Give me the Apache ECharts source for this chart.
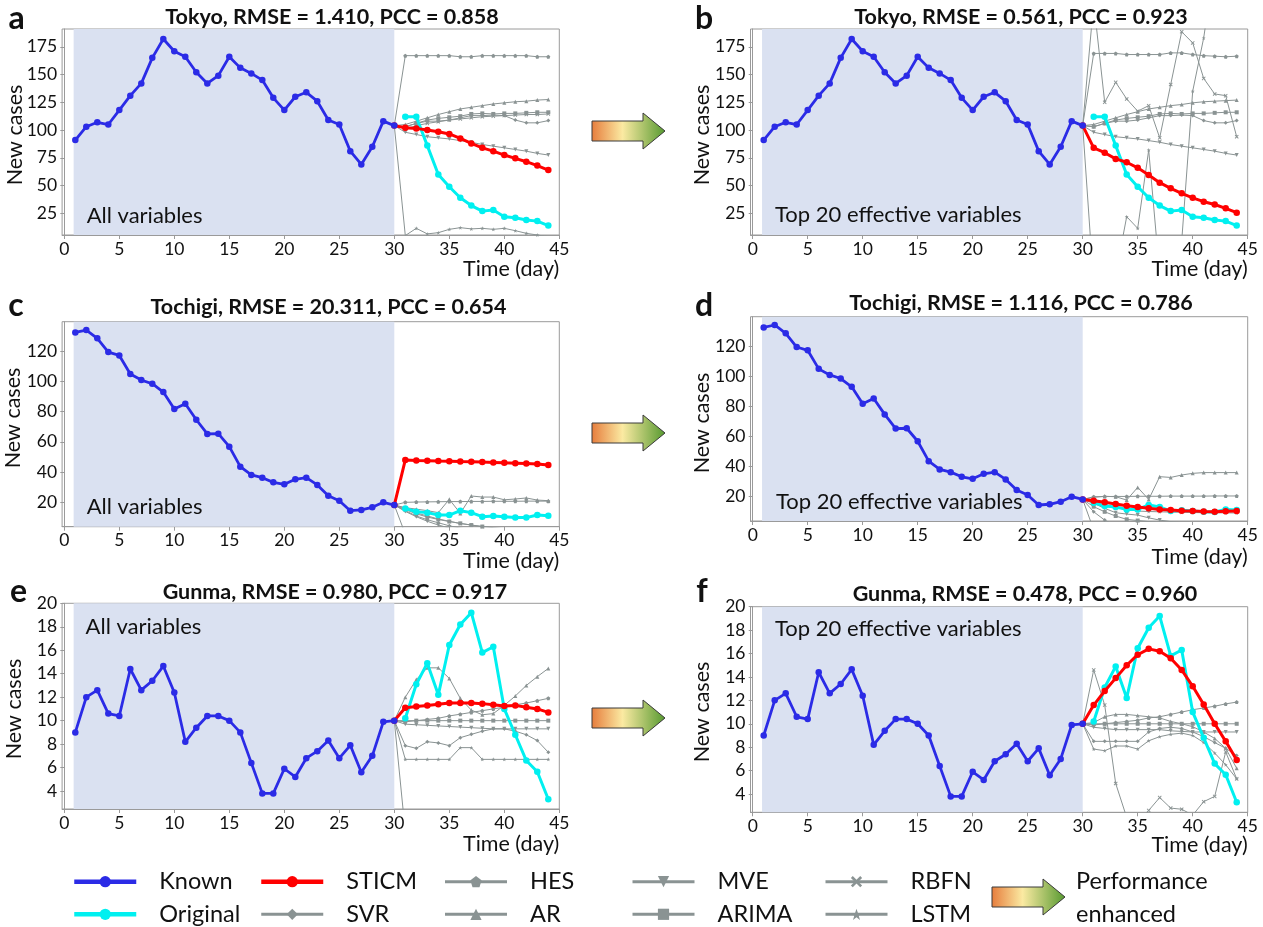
<!DOCTYPE html>
<html>
<head>
<meta charset="utf-8">
<script src="https://cdn.jsdelivr.net/npm/echarts@6/dist/echarts.min.js"></script>
<style>
  html, body { margin: 0; padding: 0; background: #ffffff; }
  #chart { width: 1263px; height: 927px; }
</style>
</head>
<body>
<div id="chart"></div>
<script>
// ---- days ----
const knownDays = [1,2,3,4,5,6,7,8,9,10,11,12,13,14,15,16,17,18,19,20,21,22,23,24,25,26,27,28,29,30];
const forecastDays = [30,31,32,33,34,35,36,37,38,39,40,41,42,43,44];

// ---- tick labels ----
const xTickValues = [0,5,10,15,20,25,30,35,40,45];
const tokyoTicks = [25,50,75,100,125,150,175];
const tochigiTicks = [20,40,60,80,100,120];
const gunmaTicks = [4,6,8,10,12,14,16,18,20];

// baseline models, in the order used by the *Baselines lists below
const models = ['SVR','HES','AR','MVE','ARIMA','RBFN','LSTM'];

// ---- Tokyo ----
const tokyoKnown = [91,103,107,105,118,131,142,165,182,171,166,152,142,149,166,156,151,145,129,118,130,134,126,109,105,81,69,85,108,104];
const tokyoOriginal = [112,112,86,60,49,39,32,27,28,22,21,19,18,14];
const tokyoSticmAll = [102,101.5,100,98.5,96.5,92.5,88,84,81,77.5,74.5,71.5,68,64];
const tokyoSticmTop = [84,79.6,74,71,66,59.5,52.6,47.5,43,39,35.5,33,29.5,25.6];
const tokyoAllBaselines = [
  [103,106,108,108,109,111,113,113,113.5,113,109,106.5,106.5,108.5],
  [167,167,167,167,167,166,166,167,167,167,167,167,166,166],
  [105,108,111,114,116.5,119,120.5,122,123.5,124.5,125.5,126,127,127.5],
  [98,96,94,93,92,90.5,89,87,85.5,84,82.5,81,79,77.5],
  [103,106,109,110.5,111.5,112.5,114.5,115,114.5,115,115,115.5,116,116],
  [101,104,106,107.5,109,110,111,112,112.5,113,113.5,114,114,114.5],
  [5,11.5,6.5,7.6,10.6,12.1,11,11.5,10.6,11.5,9.4,7,5.5,4]
];
const tokyoTopBaselines = [
  [103,106,108,108,109,111,113,113,113.5,113,108.5,106.5,106.5,108.5],
  [169,169,169,168,168,168,168,169.5,169.5,168,167,166.5,166,166.5],
  [105,108,111,114,116.5,119,120.5,122,123,124.5,125.5,126,126.5,127],
  [98,96,94,93,92,90.5,89,87,85.5,84,82.5,81,79,77.5],
  [103,106,109,110.5,111.5,112.5,114.5,115,114.5,115,115,115.5,116,116],
  [215,125,143,128,117,122,93,141,188.5,178.5,146.5,132.5,131,94],
  [-40,-40,-30,22,11.5,82,-30,-40,0,135,183,250,260,260]
];

// ---- Tochigi ----
const tochigiKnown = [132.3,133.9,128.4,119.3,117.1,104.8,100.8,98.4,92.9,81.7,85.2,74.6,65.2,65.4,56.8,43.6,38.1,36.3,33.2,31.9,35.2,36.3,31.5,24.4,21.1,14.5,15,16.7,20,18.2];
const tochigiOriginal = [16,13.8,13.2,11.6,11.6,14.5,13.2,10.5,11,10.5,10,9.9,11.6,11.2];
const tochigiSticmAll = [48,47.7,47.5,47.3,47.2,47,46.9,46.6,46.4,46.1,45.9,45.6,45.3,44.7];
const tochigiSticmTop = [17.4,16.3,15.2,14,13.2,12.3,11.6,11.2,10.7,10.5,10.2,10,10.3,10.6];
const tochigiAllBaselines = [
  [14.5,11,8.5,6.5,4.5,3,2,1.5,1,0.5,0,0,0,0],
  [20,20.2,20.3,20.4,20.5,20.5,20.6,20.6,20.7,20.7,20.7,20.8,20.8,20.8],
  [16.5,15.5,14.5,13.2,22,12.7,24.2,23.5,23.5,21.7,22.2,22.9,21.5,21.1],
  [14,10.5,7.5,5,3,1.5,0.5,0,0,0,0,0,0,0],
  [15.2,12.4,10.3,8.7,7.3,6.1,5,4,3.3,2.7,2.2,1.8,1.5,1.2],
  [-1,-3,-4,-5,-5,-5,-5,-5,-5,-5,-5,-5,-5,-5],
  [16,13,11,9,7.5,6,5,4,3.2,2.5,2,1.6,1.3,1]
];
const tochigiTopBaselines = [
  [10,4.5,1,0,0,0,0,0,0,0,0,0,0,0],
  [20,20.1,20.2,20.2,20.3,20.3,20.3,20.4,20.4,20.4,20.4,20.5,20.5,20.5],
  [19.6,20.3,20,17.8,26.2,18.2,33.3,32.8,34.4,35.5,36,36,36,36],
  [15.6,12.3,9.4,8.5,7.8,6,4.5,3.5,2.8,2.2,1.8,1.5,1.2,1],
  [13.4,10,7.2,5,4.2,3.5,3,2.5,2,1.6,1.2,1,0.8,0.5],
  [-2,-4,-5,-5,-5,-5,-5,-5,-5,-5,-5,-5,-5,-5],
  [16.5,14.5,12.8,11.5,10.5,10.2,10,9.8,9.6,9.5,9.4,9.3,9.3,9.2]
];

// ---- Gunma ----
const gunmaKnown = [9.0,12.0,12.6,10.6,10.4,14.4,12.6,13.4,14.65,12.4,8.2,9.4,10.4,10.4,10.0,9.0,6.4,3.8,3.8,5.9,5.2,6.8,7.4,8.3,6.8,7.9,5.6,7.0,9.9,10.0];
const gunmaOriginal = [10.2,13.1,14.9,12.2,16.45,18.2,19.2,15.8,16.3,11.0,8.8,6.6,5.65,3.3];
const gunmaSticmAll = [11.1,11.2,11.3,11.4,11.5,11.5,11.5,11.45,11.35,11.25,11.3,11.15,11.0,10.7];
const gunmaSticmTop = [11.6,12.8,13.9,15.0,15.9,16.4,16.2,15.6,14.6,13.2,11.65,10.0,8.5,6.9];
const gunmaAllBaselines = [
  [7.87,7.64,8.2,8.1,7.87,8.55,8.83,9.1,9.3,9.3,9.1,8.8,8.3,7.3],
  [9.9,10,10.1,10.2,10.4,10.55,10.7,10.85,11,11.15,11.35,11.5,11.7,11.9],
  [12,13.5,14.5,14.5,13.6,11.9,10.9,10.5,10.6,11.3,12.1,13.0,13.75,14.45],
  [9.7,9.65,9.6,9.55,9.5,9.45,9.4,9.35,9.3,9.3,9.3,9.3,9.3,9.3],
  [10,10,10,10,10,10,10,10,10,10,10,10,10,10],
  [0.5,-2,-3,-3,-3,-3,-3,-3,-3,-3,-3,-3,-3,-3],
  [6.7,6.7,6.7,6.7,6.7,7.7,7.7,6.7,6.7,6.7,6.7,6.7,6.7,6.7]
];
const gunmaTopBaselines = [
  [8.5,8.5,8.5,8.5,8.5,9.3,9.6,9.7,9.6,9.3,8.9,8.4,7.9,7.3],
  [9.9,10.0,10.1,10.2,10.3,10.5,10.6,10.8,11.0,11.2,11.35,11.5,11.7,11.85],
  [10.1,10.6,10.8,10.8,10.7,10.6,10.5,10.2,10.0,9.75,9.3,8.75,7.9,6.2],
  [9.7,9.6,9.5,9.5,9.5,9.5,9.5,9.4,9.35,9.3,9.3,9.3,9.3,9.3],
  [10,10,10,10,10,10,10,10,10,10,10,10,10,10],
  [14.6,11.6,4.9,2.0,1.5,2.6,3.7,2.8,2.7,2.2,3.35,3.8,7.6,5.3],
  [7.84,7.7,8.1,8.1,7.84,8.55,8.9,9.1,9.2,9.0,8.4,7.5,6.5,5.3]
];

// ---- styling ----
const FONT = 'Lato';
const C_KNOWN = '#2b2be6';
const C_ORIG = '#00f0f0';
const C_STICM = '#ff0000';
const C_BASE = '#8a9393';
const C_SHADE = '#dae1f1';
const C_FRAME = '#9a9a9a';

const modelSymbols = {
  SVR: 'diamond',
  HES: 'path://M0,-10 L9.5,-3.1 L5.9,8.1 L-5.9,8.1 L-9.5,-3.1 Z',
  AR: 'triangle',
  MVE: 'path://M-10,-8 L10,-8 L0,9 Z',
  ARIMA: 'rect',
  RBFN: 'path://M-9,-6 L-6,-9 L0,-3 L6,-9 L9,-6 L3,0 L9,6 L6,9 L0,3 L-6,9 L-9,6 L-3,0 Z',
  LSTM: 'path://M0,-10 L2.4,-3.2 L9.5,-3.1 L3.8,1.2 L5.9,8.1 L0,4 L-5.9,8.1 L-3.8,1.2 L-9.5,-3.1 L-2.4,-3.2 Z'
};

// panel geometry (pixels) and y ranges
const LEFT_COL = 62.1, RIGHT_COL = 750.5, PLOT_W = 497.2;
const panels = [
  { left: LEFT_COL,  top: 29,    height: 206,   yMin: 5.5,  yMax: 191,   ticks: tokyoTicks,   known: tokyoKnown,   orig: tokyoOriginal,   sticm: tokyoSticmAll,   base: tokyoAllBaselines },
  { left: RIGHT_COL, top: 29,    height: 206,   yMin: 5.5,  yMax: 191,   ticks: tokyoTicks,   known: tokyoKnown,   orig: tokyoOriginal,   sticm: tokyoSticmTop,   base: tokyoTopBaselines },
  { left: LEFT_COL,  top: 321.7, height: 205,   yMin: 3.9,  yMax: 139.4, ticks: tochigiTicks, known: tochigiKnown, orig: tochigiOriginal, sticm: tochigiSticmAll, base: tochigiAllBaselines },
  { left: RIGHT_COL, top: 316.7, height: 204.3, yMin: 3.9,  yMax: 139.4, ticks: tochigiTicks, known: tochigiKnown, orig: tochigiOriginal, sticm: tochigiSticmTop, base: tochigiTopBaselines },
  { left: LEFT_COL,  top: 603.3, height: 205.7, yMin: 2.47, yMax: 20,    ticks: gunmaTicks,   known: gunmaKnown,   orig: gunmaOriginal,   sticm: gunmaSticmAll,   base: gunmaAllBaselines },
  { left: RIGHT_COL, top: 606.7, height: 205.6, yMin: 2.44, yMax: 20,    ticks: gunmaTicks,   known: gunmaKnown,   orig: gunmaOriginal,   sticm: gunmaSticmTop,   base: gunmaTopBaselines }
];

const tickText = { fontFamily: FONT, fontSize: 17.5, color: '#111' };

const grid = [], xAxis = [], yAxis = [], series = [];

panels.forEach((p, i) => {
  grid.push({ left: p.left, top: p.top, width: PLOT_W, height: p.height, show: true,
              borderColor: C_FRAME, borderWidth: 1, backgroundColor: 'transparent' });
  xAxis.push({
    type: 'value', gridIndex: i, min: -0.2, max: 45,
    splitLine: { show: false },
    axisLine: { lineStyle: { color: C_FRAME, width: 1 } },
    axisTick: { customValues: xTickValues, length: 4, lineStyle: { color: C_FRAME } },
    axisLabel: Object.assign({ customValues: xTickValues, margin: 5 }, tickText)
  });
  yAxis.push({
    type: 'value', gridIndex: i, min: p.yMin, max: p.yMax,
    splitLine: { show: false },
    axisLine: { show: true, lineStyle: { color: C_FRAME, width: 1 } },
    axisTick: { show: true, customValues: p.ticks, length: 4, lineStyle: { color: C_FRAME } },
    axisLabel: Object.assign({ customValues: p.ticks, margin: 5 }, tickText)
  });

  const anchor = [forecastDays[0], p.known[p.known.length - 1]];
  const fc = vals => [anchor].concat(forecastDays.slice(1).map((d, k) => [d, vals[k]]));

  // shaded training window
  series.push({
    type: 'line', xAxisIndex: i, yAxisIndex: i, data: [], z: 1, silent: true,
    markArea: { silent: true, itemStyle: { color: C_SHADE }, data: [[{ xAxis: 0.85 }, { xAxis: 30 }]] }
  });

  // baseline models
  models.forEach((m, k) => {
    series.push({
      type: 'line', name: m, xAxisIndex: i, yAxisIndex: i, z: 2, clip: true,
      data: fc(p.base[k]),
      symbol: modelSymbols[m], symbolSize: 4,
      lineStyle: { color: C_BASE, width: 1 },
      itemStyle: { color: C_BASE }
    });
  });

  // observed values in the forecast window
  series.push({
    type: 'line', name: 'Original', xAxisIndex: i, yAxisIndex: i, z: 3, clip: true,
    data: forecastDays.slice(1).map((d, k) => [d, p.orig[k]]),
    symbol: 'circle', symbolSize: 6.5,
    lineStyle: { color: C_ORIG, width: 3 }, itemStyle: { color: C_ORIG }
  });

  // STICM prediction
  series.push({
    type: 'line', name: 'STICM', xAxisIndex: i, yAxisIndex: i, z: 4, clip: true,
    data: fc(p.sticm),
    symbol: 'circle', symbolSize: 6.5,
    lineStyle: { color: C_STICM, width: 3 }, itemStyle: { color: C_STICM }
  });

  // known series
  series.push({
    type: 'line', name: 'Known', xAxisIndex: i, yAxisIndex: i, z: 5, clip: true,
    data: knownDays.map((d, k) => [d, p.known[k]]),
    symbol: 'circle', symbolSize: 6.5,
    lineStyle: { color: C_KNOWN, width: 2.8 }, itemStyle: { color: C_KNOWN }
  });
});

// ---- text and arrows ----
const graphic = [];
function text(x, y, str, size, weight, align, rotation) {
  graphic.push({
    type: 'text', x: x, y: y, rotation: rotation || 0, silent: true, z: 100,
    style: { text: str, fontFamily: FONT, fontSize: size, fontWeight: weight || 'normal',
             fill: '#111', align: align || 'center', verticalAlign: 'middle' }
  });
}
function arrow(x0, cy) {
  graphic.push({
    type: 'polygon', silent: true, z: 100,
    shape: { points: [[x0, cy - 10], [x0 + 51, cy - 10], [x0 + 51, cy - 18], [x0 + 73, cy],
                      [x0 + 51, cy + 18], [x0 + 51, cy + 10], [x0, cy + 10]] },
    style: {
      fill: new echarts.graphic.LinearGradient(0, 0, 1, 0, [
        { offset: 0, color: '#e67c3c' },
        { offset: 0.42, color: '#fbeaa2' },
        { offset: 1, color: '#55992f' }
      ]),
      stroke: '#3a3a3a', lineWidth: 1
    }
  });
}

const titles = [
  ['Tokyo, RMSE = 1.410, PCC = 0.858', 332, 17.3],
  ['Tokyo, RMSE = 0.561, PCC = 0.923', 1021, 17.3],
  ['Tochigi, RMSE = 20.311, PCC = 0.654', 328.5, 307.3],
  ['Tochigi, RMSE = 1.116, PCC = 0.786', 1021, 303.3],
  ['Gunma, RMSE = 0.980, PCC = 0.917', 335, 591.7],
  ['Gunma, RMSE = 0.478, PCC = 0.960', 1025, 594]
];
titles.forEach(t => text(t[1], t[2], t[0], 21.5, 'bold'));

const letters = [['a', 16.6, 18.7], ['b', 704, 18.7], ['c', 16, 305.4], ['d', 704, 305.4], ['e', 18.5, 591.4], ['f', 702, 591.4]];
letters.forEach(l => text(l[1], l[2], l[0], 32, 'bold'));

const yNames = [[15, 135], [702, 135], [13, 418], [702, 423], [13.7, 709], [702, 712]];
yNames.forEach(n => text(n[0], n[1], 'New cases', 21.5, 'normal', 'center', Math.PI / 2));

const xNames = [[559.3, 269], [1247.7, 269], [559.3, 560.7], [1247.7, 556.7], [559.3, 844], [1247.7, 845]];
xNames.forEach(n => text(n[0], n[1], 'Time (day)', 21.5, 'normal', 'right'));

const varLabels = [
  ['All variables', 86.7, 216.4], ['Top 20 effective variables', 775, 215.4],
  ['All variables', 86.7, 507], ['Top 20 effective variables', 776, 502],
  ['All variables', 85.6, 627], ['Top 20 effective variables', 775, 628.7]
];
varLabels.forEach(v => text(v[1], v[2], v[0], 22, 'normal', 'left'));

arrow(592, 131);
arrow(592, 433);
arrow(592, 718);
arrow(992, 897);
text(1076, 881.7, 'Performance', 23.5, 'normal', 'left');
text(1076, 914.3, 'enhanced', 23.5, 'normal', 'left');

// ---- legend ----
function legendColumn(left, entries) {
  return {
    left: left, top: 869.7, orient: 'vertical', padding: 0,
    itemWidth: 62, itemHeight: 14, itemGap: 8.6, selectedMode: false,
    formatter: name => '{p| }' + name,
    textStyle: { fontFamily: FONT, fontSize: 23.5, color: '#111', lineHeight: 24,
                 rich: { p: { width: 18, lineHeight: 24 } } },
    data: entries.map(e => ({ name: e[0], lineStyle: { width: e[1] } }))
  };
}

const chart = echarts.init(document.getElementById('chart'), null, { renderer: 'canvas' });
chart.setOption({
  animation: false,
  backgroundColor: '#ffffff',
  grid: grid,
  xAxis: xAxis,
  yAxis: yAxis,
  series: series,
  graphic: graphic,
  legend: [
    legendColumn(72, [['Known', 4.5], ['Original', 4.5]]),
    legendColumn(259, [['STICM', 4.5], ['SVR', 3]]),
    legendColumn(443.5, [['HES', 3], ['AR', 3]]),
    legendColumn(631, [['MVE', 3], ['ARIMA', 3]]),
    legendColumn(824, [['RBFN', 3], ['LSTM', 3]])
  ]
});
</script>
</body>
</html>
